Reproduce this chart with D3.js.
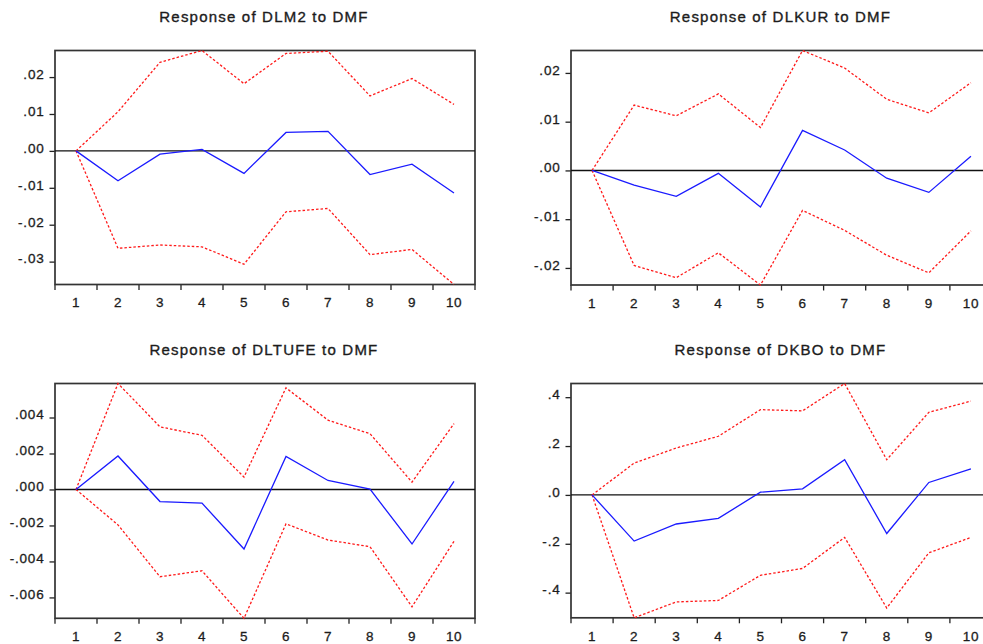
<!DOCTYPE html>
<html>
<head>
<meta charset="utf-8">
<script src="https://cdn.jsdelivr.net/npm/d3@7"></script>
<style>
  body { margin: 0; background: #fff; }
  svg { display: block; font-family: "Liberation Sans", Arial, sans-serif; }
</style>
</head>
<body>
<svg id="chart" width="983" height="644"></svg>
<script>
// Impulse responses to a DMF shock, periods 1..10, with +/- 2 S.E. bands
const periods = [1, 2, 3, 4, 5, 6, 7, 8, 9, 10];

const titles = [
  "Response of DLM2 to DMF",
  "Response of DLKUR to DMF",
  "Response of DLTUFE to DMF",
  "Response of DKBO to DMF"
];

const dlm2Resp  = [0, -0.0081, -0.0009, 0.0004, -0.0061, 0.0050, 0.0053, -0.0064, -0.0036, -0.0114];
const dlm2Upper = [0, 0.0106, 0.0240, 0.0272, 0.0182, 0.0264, 0.0270, 0.0149, 0.0196, 0.0126];
const dlm2Lower = [0, -0.0264, -0.0255, -0.0260, -0.0307, -0.0165, -0.0156, -0.0281, -0.0267, -0.0362];

const dlkurResp  = [0, -0.0030, -0.0053, -0.0006, -0.0075, 0.0082, 0.0042, -0.0016, -0.0045, 0.0029];
const dlkurUpper = [0, 0.0134, 0.0112, 0.0157, 0.0088, 0.0246, 0.0210, 0.0146, 0.0118, 0.0180];
const dlkurLower = [0, -0.0195, -0.0220, -0.0169, -0.0235, -0.0082, -0.0123, -0.0174, -0.0210, -0.0124];

const dltufeResp  = [0, 0.00186, -0.00067, -0.00076, -0.00331, 0.00184, 0.00050, 0.00002, -0.00303, 0.00045];
const dltufeUpper = [0, 0.00589, 0.00348, 0.00301, 0.00069, 0.00565, 0.00385, 0.00310, 0.00041, 0.00366];
const dltufeLower = [0, -0.00197, -0.00485, -0.00452, -0.00716, -0.00191, -0.00281, -0.00318, -0.00652, -0.00288];

const dkboResp  = [0, -0.189, -0.119, -0.096, 0.011, 0.025, 0.144, -0.158, 0.051, 0.107];
const dkboUpper = [0, 0.130, 0.192, 0.240, 0.349, 0.344, 0.456, 0.144, 0.338, 0.384];
const dkboLower = [0, -0.503, -0.438, -0.432, -0.329, -0.301, -0.174, -0.463, -0.237, -0.174];

const dlm2Ticks   = [-0.03, -0.02, -0.01, 0, 0.01, 0.02];
const dlm2Labels  = ["-.03", "-.02", "-.01", ".00", ".01", ".02"];
const dlkurTicks  = [-0.02, -0.01, 0, 0.01, 0.02];
const dlkurLabels = ["-.02", "-.01", ".00", ".01", ".02"];
const dltufeTicks  = [-0.006, -0.004, -0.002, 0, 0.002, 0.004];
const dltufeLabels = ["-.006", "-.004", "-.002", ".000", ".002", ".004"];
const dkboTicks  = [-0.4, -0.2, 0, 0.2, 0.4];
const dkboLabels = ["-.4", "-.2", ".0", ".2", ".4"];

const series = [
  { title: titles[0], resp: dlm2Resp,   upper: dlm2Upper,   lower: dlm2Lower,   ticks: dlm2Ticks,   labels: dlm2Labels },
  { title: titles[1], resp: dlkurResp,  upper: dlkurUpper,  lower: dlkurLower,  ticks: dlkurTicks,  labels: dlkurLabels },
  { title: titles[2], resp: dltufeResp, upper: dltufeUpper, lower: dltufeLower, ticks: dltufeTicks, labels: dltufeLabels },
  { title: titles[3], resp: dkboResp,   upper: dkboUpper,   lower: dkboLower,   ticks: dkboTicks,   labels: dkboLabels }
];

// Plot frames (left, right, top, bottom) for the 2x2 grid
const frames = [
  { l: 55,  r: 475, t: 50.5,  b: 284.5 },
  { l: 571, r: 992, t: 50.5,  b: 285 },
  { l: 55,  r: 475, t: 383.5, b: 618.3 },
  { l: 571, r: 992, t: 383.5, b: 617.8 }
];

const svg = d3.select("#chart");
svg.append("rect").attr("width", 983).attr("height", 644).attr("fill", "#fff");

const textInk = "#1c1c1c";

series.forEach((s, i) => {
  const f = frames[i];
  const g = svg.append("g");

  const x = d3.scaleBand().domain(periods).range([f.l, f.r]);
  const all = s.resp.concat(s.upper, s.lower);
  const y = d3.scaleLinear().domain(d3.extent(all)).range([f.b, f.t]);
  const cx = p => x(p) + x.bandwidth() / 2;

  // title
  g.append("text")
    .attr("x", (f.l + f.r) / 2 - 1)
    .attr("y", f.t - 28.5)
    .attr("text-anchor", "middle")
    .attr("font-size", 15)
    .attr("letter-spacing", 1.2)
    .attr("fill", textInk)
    .attr("stroke", textInk)
    .attr("stroke-width", 0.35)
    .text(s.title);

  // y axis ticks and labels
  const yAxis = d3.axisLeft(y)
    .tickValues(s.ticks)
    .tickFormat((d, k) => s.labels[k])
    .tickSizeInner(5.5)
    .tickSizeOuter(0)
    .tickPadding(5);
  const ya = g.append("g").attr("transform", `translate(${f.l},0)`).call(yAxis);
  ya.select(".domain").remove();
  ya.selectAll(".tick line").attr("stroke", "#222").attr("stroke-width", 1.3);
  ya.selectAll(".tick text")
    .attr("font-size", 13.5)
    .attr("letter-spacing", 0.8)
    .attr("fill", textInk)
    .attr("stroke", textInk)
    .attr("stroke-width", 0.3)
    .attr("dy", "0.1em")
    .attr("font-family", "'Liberation Sans', Arial, sans-serif");

  // x axis: ticks on period boundaries, labels at period centres
  const bounds = periods.map(p => x(p)).concat([x.range()[1]]);
  g.append("g").selectAll("line")
    .data(bounds)
    .join("line")
    .attr("x1", d => d).attr("x2", d => d)
    .attr("y1", f.b).attr("y2", f.b + 5.5)
    .attr("stroke", "#222").attr("stroke-width", 1.3);

  const xAxis = d3.axisBottom(x).tickSize(0).tickPadding(10);
  const xa = g.append("g").attr("transform", `translate(0,${f.b})`).call(xAxis);
  xa.select(".domain").remove();
  xa.selectAll(".tick text")
    .attr("font-size", 13.5)
    .attr("letter-spacing", 0.6)
    .attr("fill", textInk)
    .attr("stroke", textInk)
    .attr("stroke-width", 0.3)
    .attr("dy", "0.95em")
    .attr("font-family", "'Liberation Sans', Arial, sans-serif");

  // frame
  g.append("rect")
    .attr("x", f.l).attr("y", f.t)
    .attr("width", f.r - f.l).attr("height", f.b - f.t)
    .attr("fill", "none").attr("stroke", "#333").attr("stroke-width", 1.7);

  // zero line
  g.append("line")
    .attr("x1", f.l).attr("x2", f.r)
    .attr("y1", y(0)).attr("y2", y(0))
    .attr("stroke", "#111").attr("stroke-width", 1.4);

  const line = d3.line().x((d, k) => cx(periods[k])).y(d => y(d));

  // +/- 2 S.E. bands
  [s.upper, s.lower].forEach(band => {
    g.append("path")
      .datum(band)
      .attr("d", line)
      .attr("fill", "none")
      .attr("stroke", "#ff1a1a")
      .attr("stroke-width", 1.3)
      .attr("stroke-dasharray", "2.5,2");
  });

  // response
  g.append("path")
    .datum(s.resp)
    .attr("d", line)
    .attr("fill", "none")
    .attr("stroke", "#1a1aff")
    .attr("stroke-width", 1.3);
});
</script>
</body>
</html>
